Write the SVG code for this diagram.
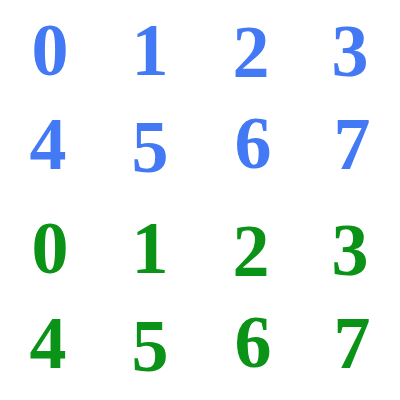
<svg xmlns="http://www.w3.org/2000/svg" width="400" height="400" viewBox="0 0 400 400">
<style>
text{font-family:"Liberation Serif",serif;font-weight:bold;font-size:74px;text-anchor:middle}
.b{fill:#4479F5}.g{fill:#0A9316}
</style>
<rect width="400" height="400" fill="#fff"/>
<g id="blue">
<g id="b0"><text class="b" x="50" y="75">0</text></g>
<g id="b1"><text class="b" x="150" y="75">1</text></g>
<g id="b2"><text class="b" x="251" y="77">2</text></g>
<g id="b3"><text class="b" x="350" y="76">3</text></g>
<g id="b4"><text class="b" x="48" y="169">4</text></g>
<g id="b5"><text class="b" x="150" y="172">5</text></g>
<g id="b6"><text class="b" x="253" y="168">6</text></g>
<g id="b7"><text class="b" x="352" y="169">7</text></g>
</g>
<g id="green">
<g id="g0"><text class="g" x="50" y="273">0</text></g>
<g id="g1"><text class="g" x="150" y="273">1</text></g>
<g id="g2"><text class="g" x="251" y="276">2</text></g>
<g id="g3"><text class="g" x="350" y="275">3</text></g>
<g id="g4"><text class="g" x="48" y="368">4</text></g>
<g id="g5"><text class="g" x="150" y="371">5</text></g>
<g id="g6"><text class="g" x="253" y="367">6</text></g>
<g id="g7"><text class="g" x="352" y="368">7</text></g>
</g>
</svg>
